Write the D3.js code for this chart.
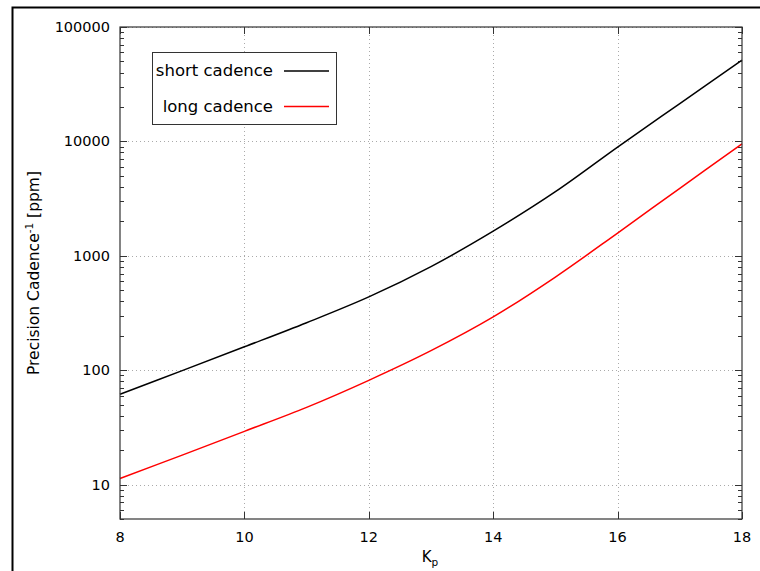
<!DOCTYPE html>
<html>
<head>
<meta charset="utf-8">
<script src="https://cdn.jsdelivr.net/npm/d3@7"></script>
<style>
  body { margin: 0; background: #fff; }
  svg { font-family: "DejaVu Sans", sans-serif; }
</style>
</head>
<body>
<div id="chart"></div>
<script>
// values
var kp = [8, 9, 10, 11, 12, 13, 14, 15, 16, 17, 18];
var shortCadence = [61.5, 99, 160, 260, 437, 804, 1640, 3630, 8910, 21400, 51300];
var longCadence = [11.3, 18.1, 29.2, 47.3, 81.5, 148, 292, 652, 1580, 3890, 9500];
var xTicks = [8, 10, 12, 14, 16, 18];
var yTicks = [10, 100, 1000, 10000, 100000];
var legendLabels = ["short cadence", "long cadence"];
var seriesColors = ["#000000", "#ff0000"];

function draw() {
  var width = 760, height = 571;
  var pl = 120, pr = 742, pt = 27, pb = 519;

  var svg = d3.select("#chart")
    .append("svg")
    .attr("width", width)
    .attr("height", height);

  // outer frame, runs off the right/bottom edge like the original
  svg.append("rect")
    .attr("x", 12.5).attr("y", 7.5)
    .attr("width", 900).attr("height", 700)
    .attr("fill", "none")
    .attr("stroke", "#000")
    .attr("stroke-width", 2);

  var x = d3.scaleLinear().domain([8, 18]).range([pl, pr]);
  var y = d3.scaleLog().domain([5, 100000]).range([pb, pt]);
  var px = v => Math.round(v) + 0.5;

  // dotted grid
  var grid = svg.append("g").attr("stroke", "#aaa").attr("stroke-dasharray", "1,3");
  grid.selectAll(null)
    .data(xTicks.slice(1, -1))
    .enter().append("line")
    .attr("x1", d => px(x(d))).attr("x2", d => px(x(d)))
    .attr("y1", pt).attr("y2", pb);
  grid.selectAll(null)
    .data(yTicks)
    .enter().append("line")
    .attr("y1", d => px(y(d))).attr("y2", d => px(y(d)))
    .attr("x1", pl).attr("x2", pr);

  // minor ticks for the log axis
  var minor = [5, 6, 7, 8, 9];
  [10, 100, 1000, 10000].forEach(dec => {
    for (var m = 2; m <= 9; m++) minor.push(dec * m);
  });

  var ax = svg.append("g").attr("stroke", "#333").attr("stroke-width", 1);
  // left + right y ticks (inward)
  [[pl, 1], [pr, -1]].forEach(s => {
    ax.selectAll(null).data(yTicks).enter().append("line")
      .attr("x1", s[0]).attr("x2", s[0] + s[1] * 7)
      .attr("y1", d => px(y(d))).attr("y2", d => px(y(d)));
    ax.selectAll(null).data(minor).enter().append("line")
      .attr("x1", s[0]).attr("x2", s[0] + s[1] * 4)
      .attr("y1", d => px(y(d))).attr("y2", d => px(y(d)));
  });
  // bottom + top x ticks
  [[pb, -1], [pt, 1]].forEach(s => {
    ax.selectAll(null).data(xTicks).enter().append("line")
      .attr("y1", s[0]).attr("y2", s[0] + s[1] * 7)
      .attr("x1", d => px(x(d))).attr("x2", d => px(x(d)));
  });

  // lines
  var line = d3.line().x(d => x(d[0])).y(d => y(d[1])).curve(d3.curveCatmullRom);
  [shortCadence, longCadence].forEach((vals, i) => {
    svg.append("path")
      .datum(kp.map((k, j) => [k, vals[j]]))
      .attr("d", line)
      .attr("fill", "none")
      .attr("stroke", seriesColors[i])
      .attr("stroke-width", 1.5);
  });

  // plot border
  svg.append("rect")
    .attr("x", pl).attr("y", pt)
    .attr("width", pr - pl).attr("height", pb - pt)
    .attr("fill", "none")
    .attr("stroke", "#333")
    .attr("stroke-width", 1.2);

  // tick labels
  svg.selectAll(null).data(xTicks).enter().append("text")
    .attr("x", d => x(d)).attr("y", 542)
    .attr("text-anchor", "middle")
    .attr("font-size", 14.5)
    .text(d => d);
  svg.selectAll(null).data(yTicks).enter().append("text")
    .attr("x", 110).attr("y", d => y(d) + 5)
    .attr("text-anchor", "end")
    .attr("font-size", 14.5)
    .text(d => d);

  // axis titles
  var xt = svg.append("text")
    .attr("x", 430).attr("y", 562)
    .attr("text-anchor", "middle")
    .attr("font-size", 15);
  xt.append("tspan").text("K");
  xt.append("tspan").attr("font-size", 10.5).attr("dy", 4).text("p");

  var yt = svg.append("text")
    .attr("transform", "translate(39,273) rotate(-90)")
    .attr("text-anchor", "middle")
    .attr("font-size", 15.5);
  yt.append("tspan").text("Precision Cadence");
  yt.append("tspan").attr("font-size", 10.5).attr("dy", -6).text("-1");
  yt.append("tspan").attr("dy", 6).text(" [ppm]");

  // legend
  svg.append("rect")
    .attr("x", 152.5).attr("y", 52.5)
    .attr("width", 184).attr("height", 72)
    .attr("fill", "#fff")
    .attr("stroke", "#333");
  legendLabels.forEach((lab, i) => {
    var ly = 71 + i * 35.5;
    svg.append("text")
      .attr("x", 273).attr("y", ly + 5)
      .attr("text-anchor", "end")
      .attr("font-size", 16.5)
      .text(lab);
    svg.append("line")
      .attr("x1", 284).attr("x2", 329)
      .attr("y1", ly).attr("y2", ly)
      .attr("stroke", seriesColors[i])
      .attr("stroke-width", 1.5);
  });
}

draw();
</script>
</body>
</html>
